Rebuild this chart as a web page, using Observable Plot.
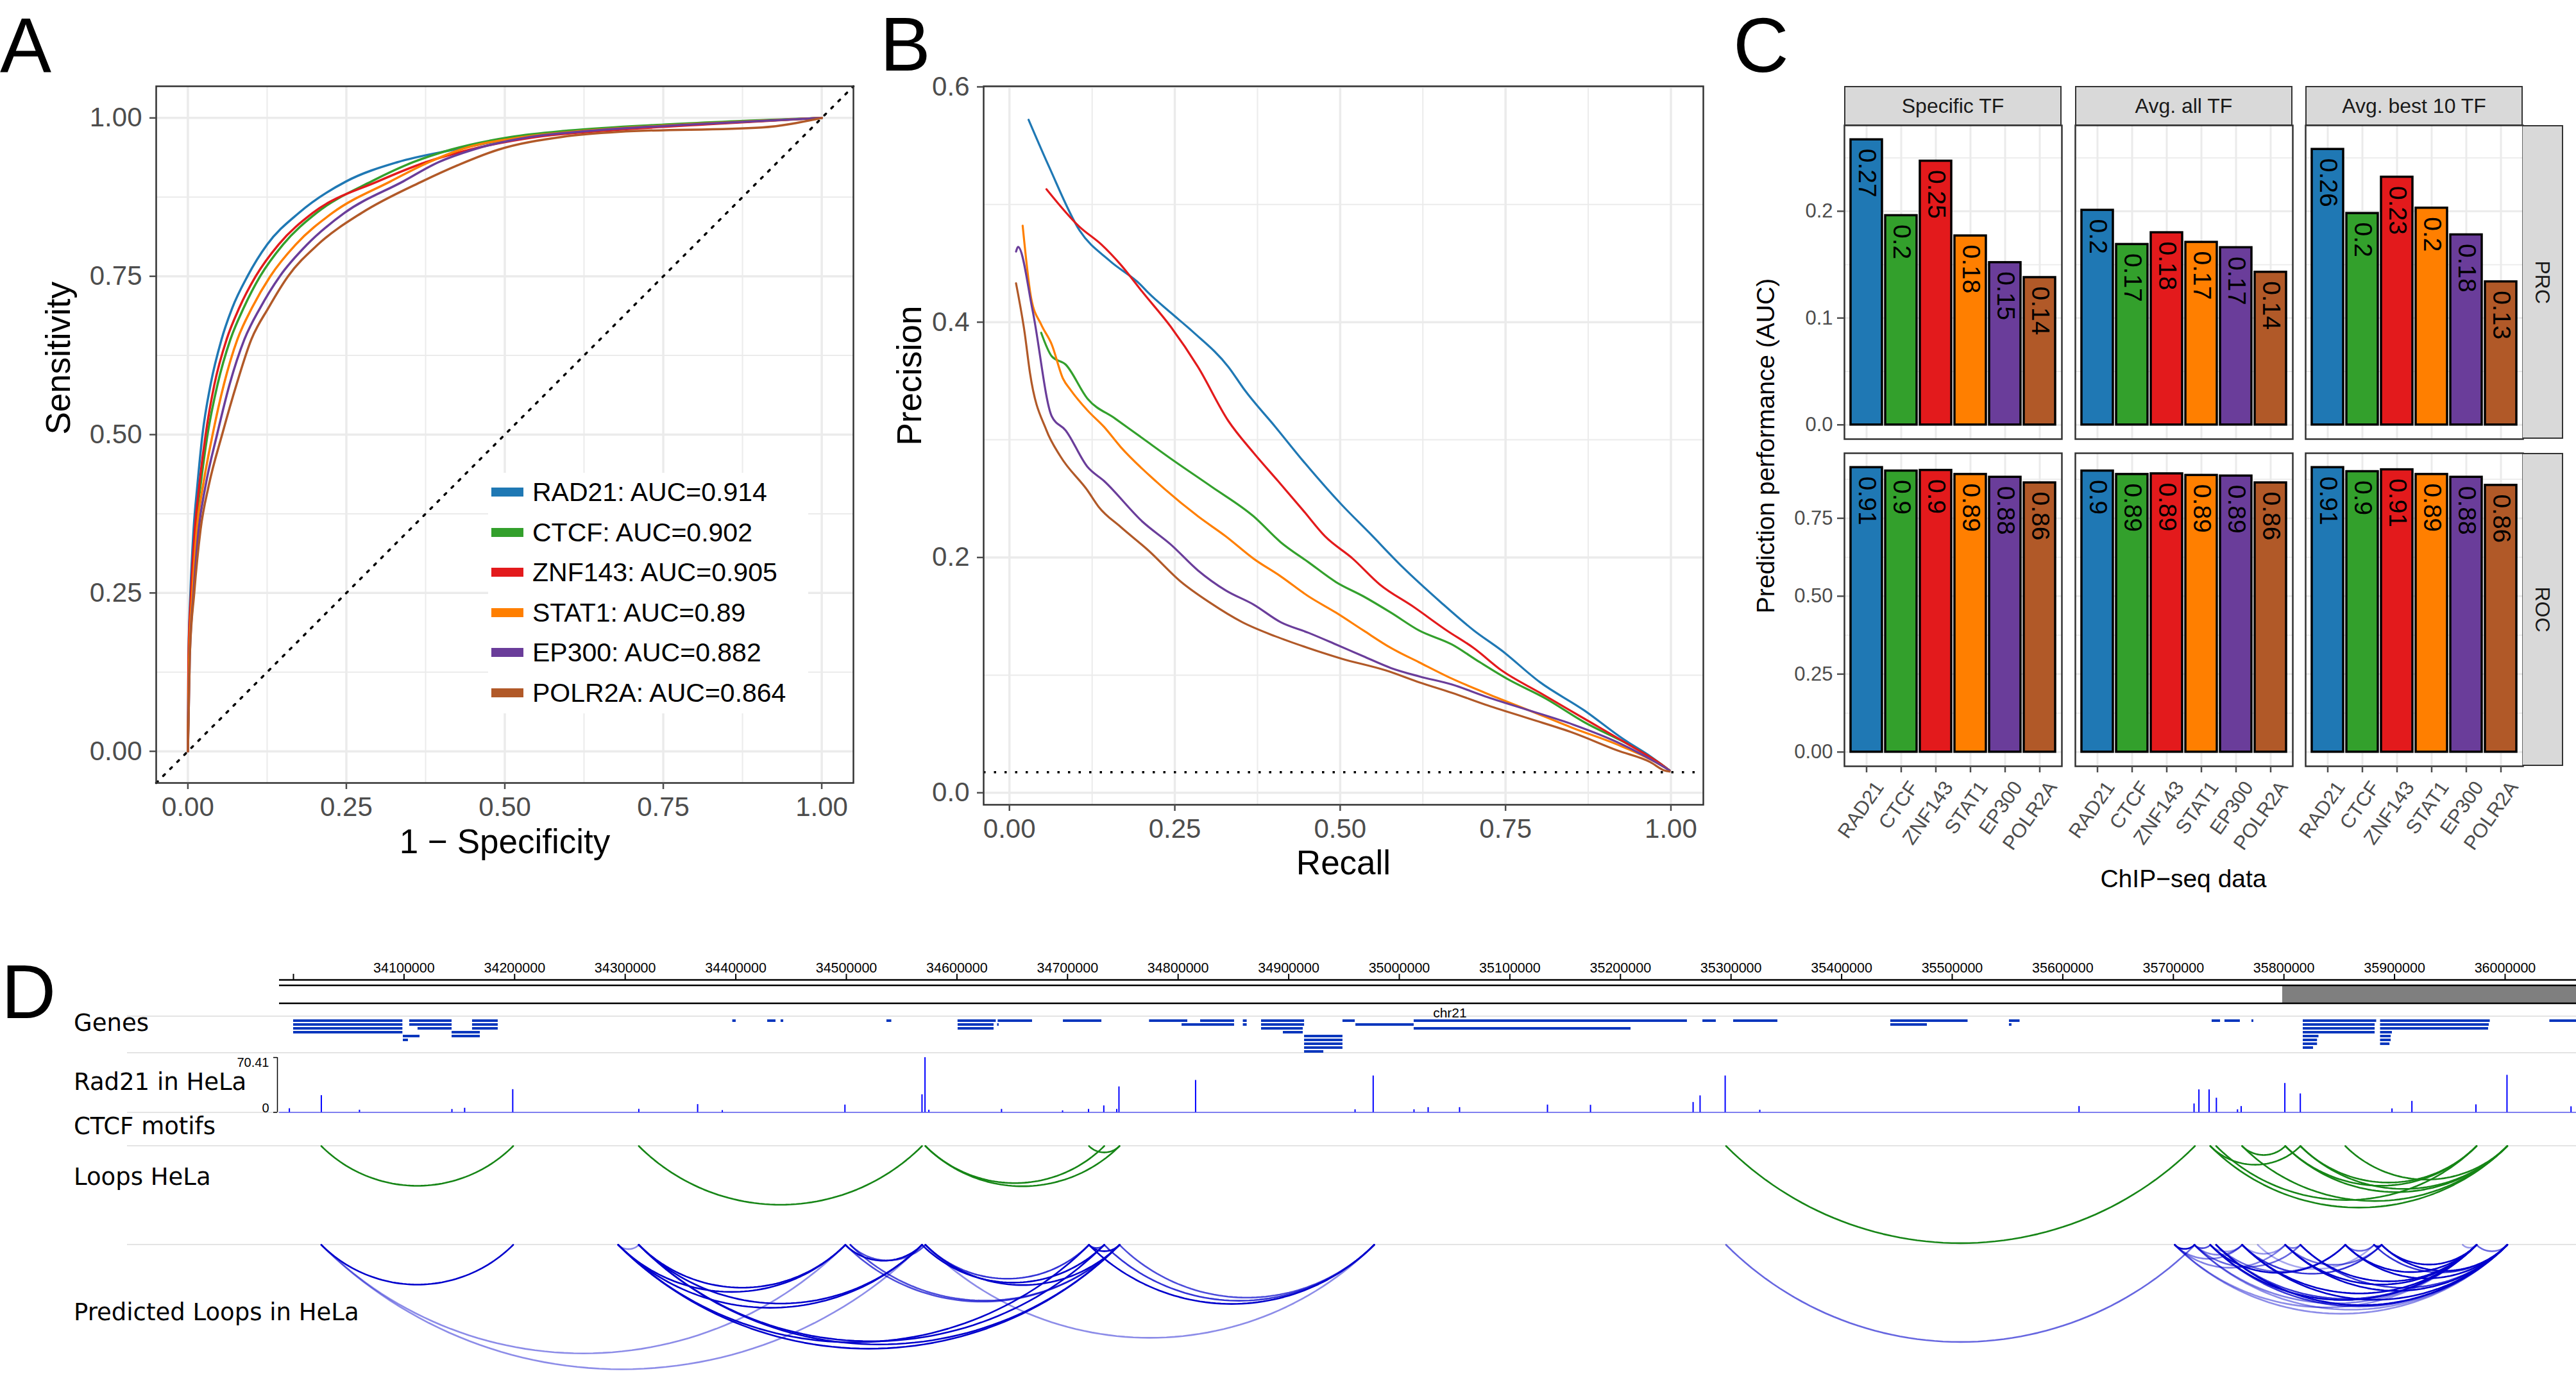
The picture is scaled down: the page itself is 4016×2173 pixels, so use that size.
<!DOCTYPE html>
<html><head><meta charset="utf-8">
<script src="https://cdn.jsdelivr.net/npm/d3@7"></script>
<script src="https://cdn.jsdelivr.net/npm/@observablehq/plot@0.6"></script>
<style>
body{margin:0;background:#fff;}
#root{position:relative;width:4016px;height:2173px;overflow:hidden;background:#fff;}
svg{overflow:visible;}
</style></head><body><div id="root"></div>
<script>
const LIB = '"Liberation Sans", Arial, Helvetica, sans-serif';
const DJV = '"DejaVu Sans", sans-serif';

// ================= DATA =================
const tfs = ["RAD21","CTCF","ZNF143","STAT1","EP300","POLR2A"];
const tfColors = ["#1f78b4","#33a02c","#e31a1c","#ff7f00","#6a3d9a","#b15928"];
const rocAUC = ["0.914","0.902","0.905","0.89","0.882","0.864"];

// ROC curves: [1 - specificity, sensitivity]
const rocRAD21 = [[0,0],[0.001,0.15],[0.004,0.25],[0.009,0.35],[0.015,0.42],[0.023,0.5],[0.036,0.58],[0.053,0.65],[0.070,0.70],[0.094,0.75],[0.125,0.80],[0.175,0.85],[0.250,0.90],[0.330,0.93],[0.420,0.95],[0.530,0.97],[0.640,0.98],[0.800,0.99],[1,1]];
const rocCTCF = [[0,0],[0.002,0.15],[0.006,0.25],[0.012,0.35],[0.020,0.42],[0.031,0.5],[0.047,0.58],[0.067,0.65],[0.088,0.70],[0.114,0.75],[0.150,0.80],[0.203,0.85],[0.290,0.90],[0.355,0.93],[0.415,0.95],[0.510,0.97],[0.600,0.98],[0.760,0.99],[1,1]];
const rocZNF143 = [[0,0],[0.001,0.15],[0.005,0.25],[0.011,0.35],[0.018,0.42],[0.028,0.5],[0.042,0.58],[0.061,0.65],[0.081,0.70],[0.107,0.75],[0.143,0.80],[0.197,0.85],[0.300,0.90],[0.375,0.93],[0.445,0.95],[0.550,0.97],[0.660,0.98],[0.820,0.99],[1,1]];
const rocSTAT1 = [[0,0],[0.002,0.15],[0.007,0.25],[0.014,0.35],[0.024,0.42],[0.039,0.5],[0.057,0.58],[0.078,0.65],[0.101,0.70],[0.130,0.75],[0.170,0.80],[0.228,0.85],[0.320,0.90],[0.380,0.93],[0.430,0.95],[0.530,0.97],[0.630,0.98],[0.790,0.99],[1,1]];
const rocEP300 = [[0,0],[0.003,0.15],[0.009,0.25],[0.017,0.35],[0.028,0.42],[0.046,0.5],[0.066,0.58],[0.089,0.65],[0.114,0.70],[0.145,0.75],[0.188,0.80],[0.247,0.85],[0.340,0.90],[0.395,0.93],[0.450,0.95],[0.540,0.97],[0.640,0.98],[0.800,0.99],[1,1]];
const rocPOLR2A = [[0,0],[0.003,0.15],[0.010,0.25],[0.020,0.35],[0.033,0.42],[0.054,0.5],[0.077,0.58],[0.100,0.65],[0.127,0.70],[0.158,0.75],[0.205,0.80],[0.274,0.85],[0.370,0.90],[0.425,0.925],[0.490,0.95],[0.590,0.97],[0.680,0.978],[0.905,0.985],[1,1]];
const rocCurves = [rocRAD21, rocCTCF, rocZNF143, rocSTAT1, rocEP300, rocPOLR2A];

// Precision-recall curves: [recall, precision]
const prRAD21 = [[0.029,0.572],[0.06,0.532],[0.106,0.478],[0.152,0.452],[0.198,0.432],[0.21,0.425],[0.244,0.408],[0.277,0.392],[0.331,0.362],[0.356,0.342],[0.402,0.311],[0.444,0.282],[0.502,0.245],[0.544,0.221],[0.594,0.192],[0.652,0.162],[0.702,0.138],[0.744,0.121],[0.802,0.094],[0.869,0.07],[0.927,0.046],[0.969,0.031],[0.998,0.019]];
const prCTCF = [[0.048,0.391],[0.064,0.371],[0.085,0.364],[0.118,0.335],[0.16,0.318],[0.202,0.301],[0.244,0.284],[0.306,0.26],[0.369,0.235],[0.41,0.213],[0.452,0.196],[0.494,0.179],[0.535,0.167],[0.577,0.153],[0.619,0.138],[0.669,0.126],[0.711,0.111],[0.752,0.097],[0.811,0.08],[0.869,0.06],[0.936,0.041],[0.986,0.024],[0.998,0.019]];
const prZNF143 = [[0.056,0.513],[0.106,0.481],[0.139,0.466],[0.168,0.449],[0.202,0.425],[0.244,0.396],[0.285,0.362],[0.331,0.316],[0.369,0.289],[0.406,0.265],[0.444,0.240],[0.477,0.218],[0.519,0.199],[0.560,0.177],[0.611,0.158],[0.661,0.138],[0.702,0.123],[0.744,0.104],[0.802,0.085],[0.869,0.063],[0.936,0.041],[0.986,0.024],[0.998,0.019]];
const prSTAT1 = [[0.020,0.482],[0.033,0.42],[0.048,0.398],[0.064,0.381],[0.081,0.352],[0.093,0.342],[0.118,0.325],[0.143,0.311],[0.168,0.294],[0.223,0.264],[0.285,0.235],[0.327,0.218],[0.369,0.199],[0.41,0.184],[0.452,0.167],[0.494,0.153],[0.535,0.138],[0.577,0.123],[0.619,0.111],[0.669,0.097],[0.719,0.085],[0.786,0.07],[0.852,0.055],[0.919,0.041],[0.977,0.026],[0.998,0.019]];
const prEP300 = [[0.010,0.46],[0.013,0.464],[0.035,0.41],[0.064,0.32],[0.085,0.308],[0.118,0.277],[0.143,0.265],[0.202,0.23],[0.244,0.211],[0.285,0.189],[0.327,0.172],[0.369,0.16],[0.41,0.145],[0.452,0.136],[0.494,0.126],[0.535,0.116],[0.577,0.106],[0.619,0.099],[0.669,0.092],[0.719,0.082],[0.786,0.07],[0.852,0.058],[0.919,0.043],[0.977,0.026],[0.998,0.019]];
const prPOLR2A = [[0.010,0.433],[0.023,0.391],[0.031,0.357],[0.056,0.308],[0.077,0.286],[0.118,0.257],[0.135,0.243],[0.168,0.226],[0.21,0.206],[0.26,0.179],[0.302,0.162],[0.352,0.145],[0.402,0.133],[0.452,0.123],[0.502,0.114],[0.569,0.104],[0.619,0.094],[0.669,0.085],[0.719,0.075],[0.786,0.063],[0.852,0.051],[0.919,0.036],[0.969,0.026],[0.99,0.019],[0.998,0.018]];
const prCurves = [prRAD21, prCTCF, prZNF143, prSTAT1, prEP300, prPOLR2A];
const prBaseline = 0.0175;

// Panel C: AUC bars
const cFacets = ["Specific TF","Avg. all TF","Avg. best 10 TF"];
const cRows = ["PRC","ROC"];
const prcSpecific = [0.267,0.196,0.247,0.177,0.152,0.138];
const prcAvgAll   = [0.201,0.169,0.180,0.171,0.166,0.143];
const prcBest10   = [0.258,0.198,0.232,0.203,0.178,0.134];
const rocSpecific = [0.913,0.902,0.904,0.891,0.882,0.864];
const rocAvgAll   = [0.902,0.891,0.893,0.888,0.886,0.864];
const rocBest10   = [0.913,0.900,0.906,0.891,0.882,0.856];

// Panel D: genome browser (positions in kb on chr21)
const rulerTicks = [34000,34100,34200,34300,34400,34500,34600,34700,34800,34900,35000,35100,35200,35300,35400,35500,35600,35700,35800,35900,36000];
const rulerLabels = [34100,34200,34300,34400,34500,34600,34700,34800,34900,35000,35100,35200,35300,35400,35500,35600,35700,35800,35900,36000];
const viewRange = [33987.24, 36064.39];
const ideogramBands = [[35798.7, 36064.4]];
const chromLabel = [[35045.8, "chr21"]];
const geneRows = [0,1,2,3,4,5,6,7,8];
// [row, start, end]
const genes = [
 [0,34000.0,34098.8],[0,34105.0,34143.3],[0,34161.8,34185.0],[0,34397.1,34400.2],[0,34428.7,34436.2],[0,34440.8,34443.2],[0,34536.5,34540.9],[0,34600.8,34635.4],[0,34637.1,34668.2],[0,34696.1,34730.9],[0,34774.0,34808.6],[0,34820.2,34850.9],[0,34858.8,34862.3],[0,34875.3,34914.2],[0,34948.9,34960.0],[0,35013.3,35260.4],[0,35274.4,35286.5],[0,35302.2,35342.2],[0,35444.3,35514.2],[0,35551.6,35561.2],[0,35734.9,35742.5],[0,35746.5,35760.4],[0,35770.9,35772.6],[0,35817.3,35883.7],[0,35887.2,35986.4],[0,36040.3,36064.4],
 [1,34000.0,34098.8],[1,34105.0,34143.3],[1,34161.8,34185.0],[1,34600.9,34633.4],[1,34636.6,34638.0],[1,34803.4,34850.9],[1,34858.8,34862.3],[1,34875.3,34914.2],[1,34960.6,35013.3],[1,35444.3,35477.4],[1,35551.6,35553.9],[1,35817.3,35882.3],[1,35887.2,35985.5],
 [2,34000.0,34098.8],[2,34112.5,34143.3],[2,34161.8,34185.0],[2,34600.9,34633.4],[2,34875.3,34913.0],[2,35013.3,35209.4],[2,35817.3,35882.3],[2,35887.2,35984.9],
 [3,34000.0,34098.8],[3,34143.3,34168.8],[3,34895.0,34913.0],[3,35817.3,35882.3],[3,35887.2,35897.9],
 [4,34099.2,34114.3],[4,34143.3,34168.8],[4,34914.2,34948.9],[4,35817.3,35831.5],[4,35887.2,35896.8],
 [5,34099.2,34103.8],[5,34914.2,34948.9],[5,35817.3,35830.2],[5,35887.2,35896.8],
 [6,34914.2,34948.9],[6,35817.3,35830.2],[6,35887.2,35895.7],
 [7,34914.2,34948.9],[7,35817.3,35826.6],
 [8,34914.2,34931.6]
];
const rad21Max = 70.41;
// [position, signal]
const rad21Peaks = [[33996.3,4.9],[34025.2,21.7],[34059.7,3.0],[34143.3,3.9],[34154.8,5.5],[34198.3,29.4],[34312.3,4.1],[34365.5,10.2],[34387.8,2.5],[34498.7,9.6],[34568.4,22.8],[34571.1,70.41],[34574.6,3.0],[34640.3,4.0],[34695.5,2.2],[34719.0,4.0],[34732.8,8.5],[34744.5,4.0],[34746.5,32.9],[34815.8,41.2],[34960.0,3.5],[34976.4,46.9],[35013.3,3.5],[35026.1,6.3],[35054.5,6.3],[35134.0,9.6],[35172.9,9.3],[35265.7,12.9],[35272.0,21.4],[35294.7,46.9],[35326.0,3.0],[35614.7,7.7],[35718.7,11.0],[35723.1,29.1],[35732.3,29.1],[35738.9,18.4],[35758.0,3.5],[35761.3,7.7],[35800.8,37.3],[35814.8,23.9],[35897.7,4.7],[35915.7,14.3],[35973.6,9.9],[36001.7,47.8],[36059.6,7.4]];
// [position, strand, row]
const ctcfMotifs = [[34025.2,"-","a"],[34198.7,"+","a"],[34206.7,"+","a"],[34293.7,"-","a"],[34312.3,"-","a"],[34397.1,"-","a"],[34452.6,"-","a"],[34499.1,"+","a"],[34503.6,"-","a"],[34568.4,"+","a"],[34571.5,"-","b"],[34601.7,"+","a"],[34719.4,"-","a"],[34719.4,"-","b"],[34733.2,"+","a"],[34747.0,"+","a"],[34913.9,"+","a"],[34977.3,"+","a"],[35295.5,"-","a"],[35341.6,"+","a"],[35614.7,"-","a"],[35701.6,"-","a"],[35719.5,"+","a"],[35734.1,"-","a"],[35739.3,"-","a"],[35762.6,"-","a"],[35776.6,"-","a"],[35801.2,"-","a"],[35815.2,"-","a"],[35855.6,"-","a"],[35881.0,"-","a"],[35882.3,"-","b"],[35888.9,"+","a"],[35961.3,"-","a"],[35974.9,"+","a"],[36002.1,"+","a"]];
// [anchor1, anchor2]
const loopsHeLa = [[34025.2,34198.7],[34312.3,34568.4],[34571.5,34733.2],[34571.5,34747.0],[34719.4,34747.0],[35295.5,35719.5],[35733.4,36002.0],[35738.7,35974.2],[35762.2,36002.0],[35801.2,36002.0],[35814.9,36002.0],[35801.2,35974.2],[35814.9,35974.2],[35855.5,36002.0],[35733.4,35814.9],[35762.2,35801.2]];
// [anchor1, anchor2, score]
const predictedLoops = [[34025.2,34198.7,1],[34025.2,34499.1,0.45],[34025.2,34568.4,0.45],[34293.7,34312.3,0.45],[34293.7,34499.1,1],[34312.3,34499.1,1],[34293.7,34568.4,1],[34312.3,34568.4,1],[34293.7,34719.4,1],[34293.7,34747.0,1],[34312.3,34733.2,1],[34312.3,34747.0,1],[34499.1,34568.4,1],[34503.6,34571.5,0.7],[34499.1,34747.0,0.7],[34503.6,34747.0,0.7],[34568.4,34733.2,1],[34571.5,34747.0,1],[34571.5,34719.4,0.8],[34571.5,34977.3,0.45],[34719.4,34977.3,1],[34733.2,34977.3,0.8],[34747.0,34977.3,0.7],[34719.4,34747.0,1],[34719.4,34733.2,0.8],[35295.5,35719.5,0.6],
 [35701.3,35719.0,1],[35719.0,35733.4,0.7],[35733.4,35762.2,0.4],[35762.2,35801.2,0.4],[35801.2,35814.9,0.5],[35855.5,35881.5,0.6],[35881.5,35888.3,1],[35961.7,35974.2,0.4],[35974.2,36002.0,0.6],
 [35701.3,36002.0,0.45],[35701.3,35974.2,0.45],[35719.0,35974.2,0.5],[35719.0,36002.0,0.45],[35733.4,35974.2,1],[35738.7,36002.0,1],[35733.4,36002.0,0.8],[35738.7,35974.2,0.8],[35762.2,35974.2,1],[35762.2,36002.0,1],[35801.2,35974.2,1],[35801.2,36002.0,1],[35814.9,35974.2,1],[35814.9,36002.0,0.8],[35855.5,35974.2,1],[35855.5,36002.0,1],[35888.3,35974.2,1],[35881.5,36002.0,0.8],[35888.3,36002.0,1],[35701.3,35801.2,0.5],[35719.0,35814.9,0.6],[35733.4,35855.5,1],[35738.7,35855.5,0.6],[35762.2,35888.3,0.8],[35801.2,35888.3,0.6],[35776.3,35881.5,0.35],[35719.0,35762.2,0.5],[35701.3,35762.2,0.5]];
const trackLabels = ["Genes","Rad21 in HeLa","CTCF motifs","Loops HeLa","Predicted Loops in HeLa"];

// ================= HELPERS =================
const root = document.getElementById("root");
function place(node, left, top) {
  node.style.position = "absolute"; node.style.left = left + "px"; node.style.top = top + "px";
  root.appendChild(node); return node;
}
// text placed by its baseline point
function txt(str, x, y, size, {anchor = "start", rotate = 0, color = "#000", font = LIB} = {}) {
  const o = document.createElement("div");
  o.style.cssText = `position:absolute;left:${x}px;top:${y}px;width:0;height:0;transform:rotate(${rotate}deg);transform-origin:0 0;`;
  const s = document.createElement("span");
  const tx = anchor === "middle" ? "-50%" : anchor === "end" ? "-100%" : "0";
  s.style.cssText = `position:absolute;left:0;top:${-0.846 * size}px;white-space:nowrap;font-family:${font};font-size:${size}px;line-height:1;color:${color};transform:translateX(${tx});`;
  s.textContent = str;
  o.appendChild(s); root.appendChild(o);
}
function box(x, y, w, h, css) {
  const d = document.createElement("div");
  d.style.cssText = `position:absolute;left:${x}px;top:${y}px;width:${w}px;height:${h}px;box-sizing:border-box;${css}`;
  root.appendChild(d); return d;
}
const GRID = "#ebebeb", BORDER = "#333333", AXT = "#4d4d4d";
const styleBase = {fontFamily: LIB, background: "transparent", overflow: "visible"};

// ================= PANEL A =================
const majorA = [0, 0.25, 0.5, 0.75, 1], minorA = [0.125, 0.375, 0.625, 0.875];
const domA = [-0.05, 1.05];
const rocRows = tfs.flatMap((tf, i) => rocCurves[i].map(p => ({tf, fpr: p[0], tpr: p[1]})));
place(Plot.plot({
  width: 1370, height: 1360, marginLeft: 243, marginTop: 134, marginRight: 40, marginBottom: 140,
  x: {domain: domA}, y: {domain: domA},
  color: {domain: tfs, range: tfColors},
  style: styleBase,
  marks: [
    Plot.gridX({ticks: minorA, stroke: GRID, strokeOpacity: 1, strokeWidth: 2}),
    Plot.gridY({ticks: minorA, stroke: GRID, strokeOpacity: 1, strokeWidth: 2}),
    Plot.gridX({ticks: majorA, stroke: GRID, strokeOpacity: 1, strokeWidth: 3.5}),
    Plot.gridY({ticks: majorA, stroke: GRID, strokeOpacity: 1, strokeWidth: 3.5}),
    Plot.line(domA.map(v => [v, v]), {stroke: "#000", strokeWidth: 3.5, strokeDasharray: "3.5,12"}),
    Plot.line(rocRows, {x: "fpr", y: "tpr", z: "tf", stroke: "tf", strokeWidth: 3.5, curve: "monotone-x"}),
    Plot.frame({stroke: BORDER, strokeWidth: 2.5}),
    Plot.axisX({ticks: majorA, tickFormat: d3.format(".2f"), tickSize: 10, tickPadding: 12, fontSize: 42, color: AXT, strokeWidth: 2.5, label: null}),
    Plot.axisY({ticks: majorA, tickFormat: d3.format(".2f"), tickSize: 10, tickPadding: 12, fontSize: 42, color: AXT, strokeWidth: 2.5, label: null}),
    Plot.text(["1 \u2212 Specificity"], {frameAnchor: "bottom", dy: 109, lineAnchor: "bottom", fontSize: 53, fill: "#000"}),
    Plot.text(["Sensitivity"], {frameAnchor: "left", dx: -135, rotate: -90, lineAnchor: "bottom", fontSize: 53, fill: "#000"})
  ]
}), 0, 0);
// legend of panel A
box(761, 737, 499, 375, "background:#fff;");
tfs.forEach((tf, i) => {
  const cy = 767 + 62.5 * i;
  box(766, cy - 7, 50, 14, `background:${tfColors[i]};`);
  txt(`${tf}: AUC=${rocAUC[i]}`, 830, cy + 15, 41);
});
txt("A", 0, 112, 120);

// ================= PANEL B =================
const majorBx = [0, 0.25, 0.5, 0.75, 1], minorBx = [0.125, 0.375, 0.625, 0.875];
const majorBy = [0, 0.2, 0.4, 0.6], minorBy = [0.1, 0.3, 0.5];
const prRows = tfs.flatMap((tf, i) => prCurves[i].map(p => ({tf, recall: p[0], precision: p[1]})));
place(Plot.plot({
  width: 1300, height: 1400, marginLeft: 143, marginTop: 134, marginRight: 35, marginBottom: 146,
  x: {domain: [-0.039, 1.049]}, y: {domain: [-0.0102, 0.6005]},
  color: {domain: tfs, range: tfColors},
  style: styleBase,
  marks: [
    Plot.gridX({ticks: minorBx, stroke: GRID, strokeOpacity: 1, strokeWidth: 2}),
    Plot.gridY({ticks: minorBy, stroke: GRID, strokeOpacity: 1, strokeWidth: 2}),
    Plot.gridX({ticks: majorBx, stroke: GRID, strokeOpacity: 1, strokeWidth: 3.5}),
    Plot.gridY({ticks: majorBy, stroke: GRID, strokeOpacity: 1, strokeWidth: 3.5}),
    Plot.ruleY([prBaseline], {stroke: "#000", strokeWidth: 3.5, strokeDasharray: "3.5,13"}),
    Plot.line(prRows, {x: "recall", y: "precision", z: "tf", stroke: "tf", strokeWidth: 3.2, curve: "monotone-x"}),
    Plot.frame({stroke: BORDER, strokeWidth: 2.5}),
    Plot.axisX({ticks: majorBx, tickFormat: d3.format(".2f"), tickSize: 10, tickPadding: 12, fontSize: 42, color: AXT, strokeWidth: 2.5, label: null}),
    Plot.axisY({ticks: majorBy, tickFormat: d3.format(".1f"), tickSize: 10, tickPadding: 12, fontSize: 42, color: AXT, strokeWidth: 2.5, label: null}),
    Plot.text(["Recall"], {frameAnchor: "bottom", dy: 108, lineAnchor: "bottom", fontSize: 53, fill: "#000"}),
    Plot.text(["Precision"], {frameAnchor: "left", dx: -98, rotate: -90, lineAnchor: "bottom", fontSize: 53, fill: "#000"})
  ]
}), 1390, 0);
txt("B", 1372, 110, 118);

// ================= PANEL C =================
const cColLeft = [2875, 3235, 3594], cColW = 339;
const cRowSpec = {
  PRC: {top: 195, bottom: 684, domain: [-0.01335, 0.28035], major: [0, 0.1, 0.2], minor: [0.05, 0.15, 0.25], fmt: ".1f",
        vals: [prcSpecific, prcAvgAll, prcBest10]},
  ROC: {top: 706, bottom: 1194, domain: [-0.0457, 0.9587], major: [0, 0.25, 0.5, 0.75], minor: [0.125, 0.375, 0.625, 0.875], fmt: ".2f",
        vals: [rocSpecific, rocAvgAll, rocBest10]}
};
const lab2 = v => String(Math.round(v * 100) / 100);
cRows.forEach((rowName, ri) => {
  const spec = cRowSpec[rowName];
  cFacets.forEach((facet, ci) => {
    const data = tfs.map((tf, k) => ({tf, value: spec.vals[ci][k]}));
    const bottomRow = ri === cRows.length - 1;
    const mL = 90, mR = 5, mT = 5, mB = bottomRow ? 230 : 5;
    const h = spec.bottom - spec.top;
    const marks = [
      Plot.gridY({ticks: spec.minor, stroke: GRID, strokeOpacity: 1, strokeWidth: 1.8}),
      Plot.gridY({ticks: spec.major, stroke: GRID, strokeOpacity: 1, strokeWidth: 3}),
      Plot.gridX({stroke: GRID, strokeOpacity: 1, strokeWidth: 3}),
      Plot.barY(data, {x: "tf", y: "value", fill: "tf", stroke: "#000", strokeWidth: 3.5}),
      Plot.text(data, {x: "tf", y: "value", text: d => lab2(d.value), rotate: 90, textAnchor: "start", lineAnchor: "middle", dy: 14, fontSize: 39, fill: "#000"}),
      Plot.frame({stroke: BORDER, strokeWidth: 2.5})
    ];
    if (ci === 0) marks.push(Plot.axisY({ticks: spec.major, tickFormat: d3.format(spec.fmt), tickSize: 11, tickPadding: 7, fontSize: 31, color: AXT, strokeWidth: 2.5, label: null}));
    if (bottomRow) {
      marks.push(Plot.axisX({tickSize: 10, tickFormat: () => "", color: AXT, strokeWidth: 2.5, label: null}));
      marks.push(Plot.text(tfs, {x: d => d, frameAnchor: "bottom", rotate: -55, textAnchor: "end", lineAnchor: "top", dx: 10, dy: 20, fontSize: 31, fill: AXT}));
    }
    place(Plot.plot({
      width: mL + cColW + mR, height: mT + h + mB, marginLeft: mL, marginRight: mR, marginTop: mT, marginBottom: mB,
      x: {type: "band", domain: tfs, paddingInner: 0.1, paddingOuter: 0.15, axis: null},
      y: {domain: spec.domain, axis: null},
      color: {domain: tfs, range: tfColors},
      style: styleBase,
      marks
    }), cColLeft[ci] - mL, spec.top - mT);
  });
  // right strip
  box(3933, spec.top, 63, spec.bottom - spec.top, `background:#d9d9d9;border:2.5px solid ${BORDER};border-left:none;`);
  txt(rowName, 3953, (spec.top + spec.bottom) / 2, 32, {anchor: "middle", rotate: 90, color: "#1a1a1a"});
});
cFacets.forEach((facet, ci) => {
  box(cColLeft[ci], 134, cColW, 62, `background:#d9d9d9;border:2.5px solid ${BORDER};`);
  txt(facet, cColLeft[ci] + cColW / 2, 176, 32, {anchor: "middle", color: "#1a1a1a"});
});
txt("Prediction performance (AUC)", 2766, 695, 39, {anchor: "middle", rotate: -90});
txt("ChIP\u2212seq data", 3404, 1383, 39, {anchor: "middle"});
txt("C", 2702, 112, 120);

// ================= PANEL D =================
const xD = {domain: viewRange, axis: null};
const dLeft = 435, dWidth = 4016;
const pxPerKb = (dWidth - dLeft) / (viewRange[1] - viewRange[0]);
// separators
[1584, 1641, 1734, 1786, 1940].forEach(y => box(198, y - 1, dWidth - 198, 2, "background:#e4e4e4;"));
function dPlot(top, height, mT, mB, opts, marks) {
  return place(Plot.plot({
    width: dWidth, height, marginLeft: dLeft, marginRight: 0, marginTop: mT, marginBottom: mB,
    x: xD, style: {...styleBase, fontFamily: LIB}, ...opts, marks
  }), 0, top);
}
// ruler
dPlot(1480, 56, 38, 9, {y: {domain: [0, 1], axis: null}}, [
  Plot.tickX(rulerTicks, {x: d => d, stroke: "#000", strokeWidth: 2}),
  Plot.ruleY([0], {stroke: "#000", strokeWidth: 2.5}),
  Plot.text(rulerLabels, {x: d => d, text: d => String(d * 1000), frameAnchor: "top", dy: -3, lineAnchor: "bottom", fontSize: 21.5, fill: "#000"})
]);
// ideogram
dPlot(1534, 56, 1.5, 26.5, {y: {domain: [0, 1], axis: null}}, [
  Plot.rect(ideogramBands, {x1: d => d[0], x2: d => d[1], fill: "#7f7f7f"}),
  Plot.ruleY([0, 1], {stroke: "#000", strokeWidth: 2.5}),
  Plot.text(chromLabel, {x: d => d[0], text: d => d[1], frameAnchor: "bottom", dy: 21.5, lineAnchor: "bottom", fontSize: 21, fill: "#000"})
]);
// genes
dPlot(1585, 60, 1.7, 2.6, {y: {type: "band", domain: geneRows, paddingInner: 0.33, paddingOuter: 0, axis: null}}, [
  Plot.barX(genes, {x1: d => d[1], x2: d => d[2], y: d => d[0], fill: "#0a37bd"})
]);
// Rad21 signal
dPlot(1640, 100, 8, 6.5, {y: {domain: [0, rad21Max], axis: null}}, [
  Plot.ruleY([0], {stroke: "#7f7ff0", strokeWidth: 1.8}),
  Plot.ruleX(rad21Peaks, {x: d => d[0], y1: 0, y2: d => d[1], stroke: "#0000ff", strokeWidth: 2}),
  Plot.ruleX([viewRange[0]], {y1: 0, y2: rad21Max, stroke: "#000", strokeWidth: 1.5, dx: -3}),
  Plot.axisY({anchor: "left", ticks: [0, rad21Max], tickSize: 6, tickFormat: () => "", stroke: "#000", strokeWidth: 1.5, label: null, dx: -3}),
  Plot.text([rad21Max], {y: d => d, text: d => String(d), frameAnchor: "left", dx: -16, textAnchor: "end", lineAnchor: "top", fontSize: 20, fill: "#000"}),
  Plot.text([0], {y: d => d, text: d => String(d), frameAnchor: "left", dx: -16, textAnchor: "end", lineAnchor: "bottom", fontSize: 20, fill: "#000"})
]);
// CTCF motifs
dPlot(1734, 53, 2.7, 1.3, {y: {type: "band", domain: ["a", "b"], paddingInner: 0.05, paddingOuter: 0, axis: null},
  color: {domain: ["+", "-"], range: ["#0000ff", "#ff0000"]}}, [
  Plot.ruleX(ctcfMotifs, {x: d => d[0], y: d => d[2], stroke: d => d[1], strokeWidth: 2})
]);
// loop arcs: 90-degree circular arcs hanging below the track top
function arcPoints(loops, n = 60) {
  const pts = [];
  loops.forEach((l, i) => {
    const a = l[0], b = l[1], c = (a + b) / 2, half = (b - a) / 2, r = (b - a) / Math.SQRT2;
    for (let k = 0; k <= n; k++) {
      const phi = Math.PI / 4 + (Math.PI / 2) * k / n;
      pts.push({id: i, x: c - r * Math.cos(phi), depth: -half + r * Math.sin(phi), score: l.length > 2 ? l[2] : 1});
    }
  });
  return pts;
}
function loopTrack(top, height, loops, color) {
  dPlot(top, height, 0, 0, {y: {domain: [0, height / pxPerKb], range: [0, height], axis: null}, opacity: {type: "identity"}}, [
    Plot.line(arcPoints(loops), {x: "x", y: "depth", z: "id", stroke: color, strokeOpacity: "score", strokeWidth: 2.6})
  ]);
}
loopTrack(1786, 154, loopsHeLa, "#168516");
loopTrack(1940, 233, predictedLoops, "#0000cc");
// track labels
const labelBaselines = [1607.5, 1699.5, 1768.5, 1847.5, 2058.5];
trackLabels.forEach((t, i) => txt(t, 115, labelBaselines[i], 37, {font: DJV}));
txt("D", 2, 1587, 118);
</script></body></html>
